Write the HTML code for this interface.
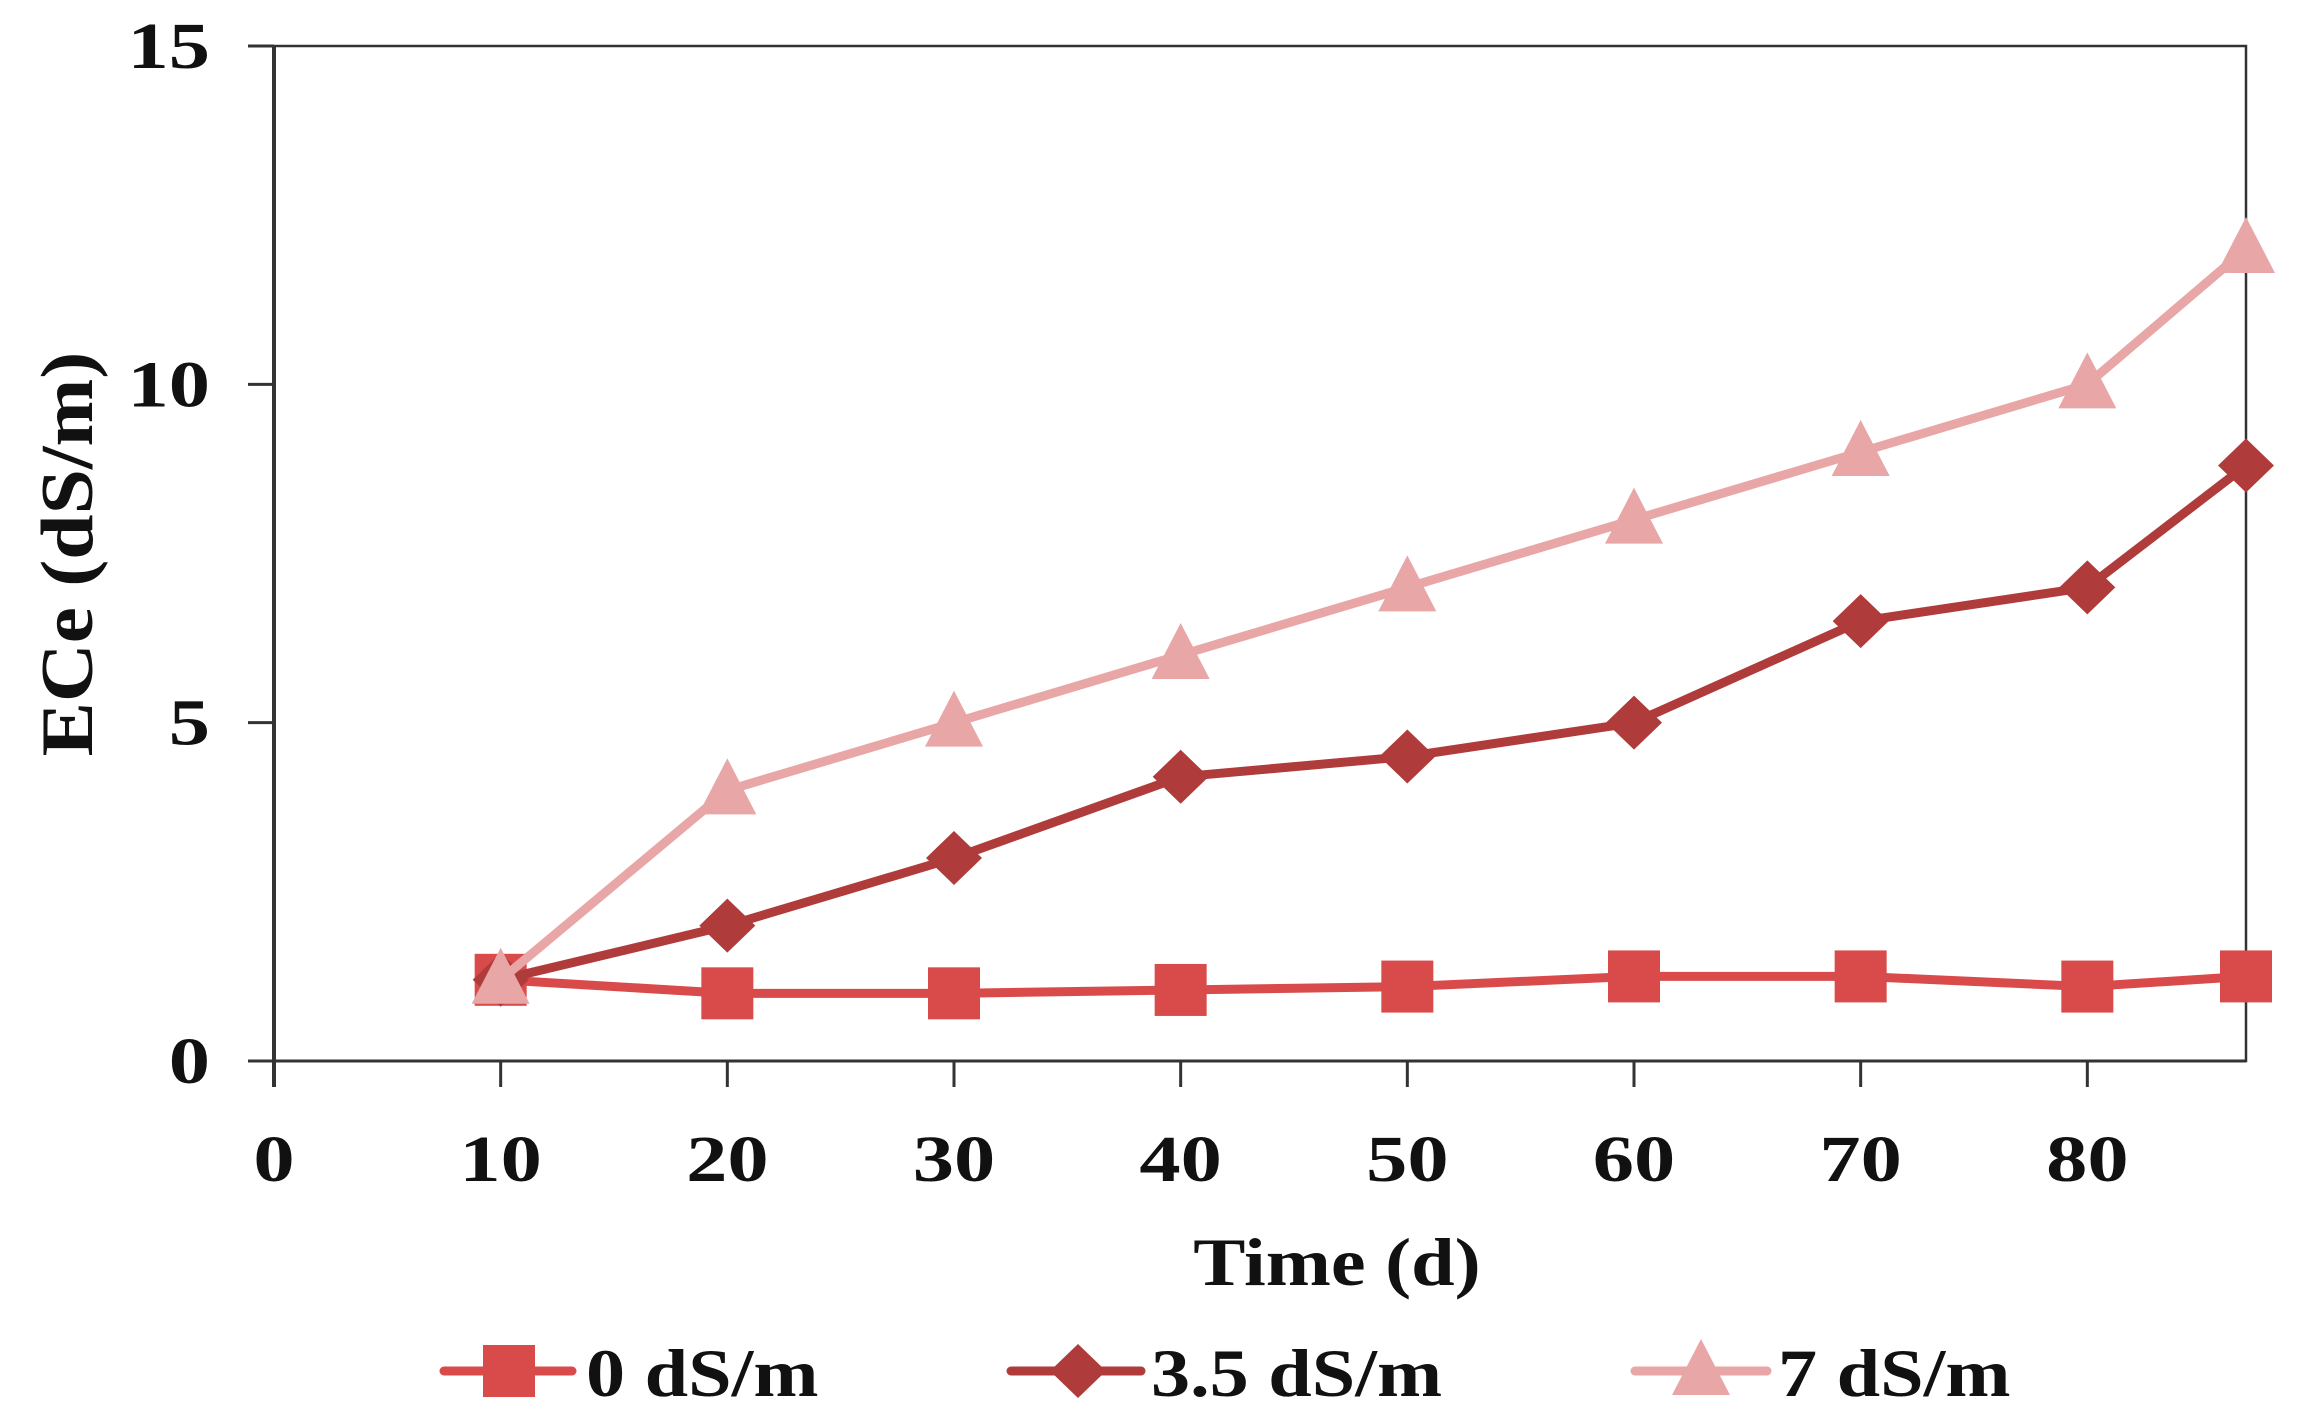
<!DOCTYPE html>
<html><head><meta charset="utf-8"><style>
html,body{margin:0;padding:0;background:#fff}
svg{display:block}
text{font-family:"Liberation Serif",serif;font-weight:bold;fill:#111}
</style></head><body>
<svg id="chart" width="2299" height="1419" viewBox="0 0 2299 1419" xmlns="http://www.w3.org/2000/svg">
<g id="axes"></g><g id="series"></g><g id="legend"></g>
</svg>
<script>
const xValues = [10,20,30,40,50,60,70,80,87];
const series0 = [1.2,1.0,1.0,1.05,1.1,1.25,1.25,1.1,1.25];
const series35 = [1.2,2,3,4.2,4.5,5,6.5,7,8.8];
const series7 = [1.2,4,5,6,7,8,9,10,12];
const xTicks = [0,10,20,30,40,50,60,70,80];
const yTicks = [0,5,10,15];
const seriesNames = ["0 dS/m","3.5 dS/m","7 dS/m"];

const L=274,R=2246,T=46,B=1061,XMAX=87,YMAX=15;
const sx=v=>L+(v/XMAX)*(R-L);
const sy=v=>B-(v/YMAX)*(B-T);
const NS="http://www.w3.org/2000/svg";
function mk(tag,attrs,parent){const e=document.createElementNS(NS,tag);for(const k in attrs)e.setAttribute(k,attrs[k]);parent.appendChild(e);return e;}
function stretch(t,f){const w=t.getComputedTextLength();t.setAttribute('textLength',w*f);t.setAttribute('lengthAdjust','spacingAndGlyphs');}
const axes=document.getElementById('axes'),ser=document.getElementById('series'),leg=document.getElementById('legend');

let frame=mk('rect',{x:L,y:T,width:R-L,height:B-T,fill:'none',stroke:'#333','stroke-width':2.5},axes);


let ya=mk('line',{x1:L,y1:T,x2:L,y2:B+26,stroke:'#333','stroke-width':4},axes);


let xa=mk('line',{x1:L-26,y1:B,x2:R,y2:B,stroke:'#333','stroke-width':3},axes);



yTicks.forEach(v=>{
  const t=mk('line',{x1:L-26,y1:sy(v),x2:L,y2:sy(v),stroke:'#333','stroke-width':3},axes);
  
  
  const tx=mk('text',{x:210,y:sy(v)+22,'text-anchor':'end','font-size':66},axes);
  tx.textContent=v;
  
  
  stretch(tx,1.25);
});
xTicks.forEach(v=>{
  const t=mk('line',{x1:sx(v),y1:B,x2:sx(v),y2:B+26,stroke:'#333','stroke-width':3},axes);
  
  
  const tx=mk('text',{x:sx(v),y:1181,'text-anchor':'middle','font-size':66},axes);
  tx.textContent=v;
  
  
  stretch(tx,1.25);
});
let xt=mk('text',{x:1337,y:1285,'text-anchor':'middle','font-size':68},axes);
xt.textContent='Time (d)';


stretch(xt,1.15);
let yt=mk('text',{x:0,y:0,'text-anchor':'middle','font-size':74,transform:'translate(92,554) rotate(-90)'},axes);
yt.textContent='ECe (dS/m)';


stretch(yt,1.1);

function marker(type,cx,cy,color,parent){
  let e;
  if(type==='square') e=mk('rect',{x:cx-26,y:cy-26,width:52,height:52,fill:color},parent);
  else if(type==='diamond') e=mk('polygon',{points:`${cx},${cy-27} ${cx+28},${cy} ${cx},${cy+27} ${cx-28},${cy}`,fill:color},parent);
  else e=mk('polygon',{points:`${cx},${cy-32} ${cx+29},${cy+24} ${cx-29},${cy+24}`,fill:color},parent);
  return e;
}
const defs=[
 {vals:series0,color:'#d94b4b',m:'square',name:'series-0-ds-m'},
 {vals:series35,color:'#b03b3b',m:'diamond',name:'series-3-5-ds-m'},
 {vals:series7,color:'#e8a6a6',m:'triangle',name:'series-7-ds-m'}
];
defs.forEach(d=>{
  const g=mk('g',{},ser);
  
  
  const pl=mk('polyline',{points:d.vals.map((v,i)=>sx(xValues[i])+','+sy(v)).join(' '),fill:'none',stroke:d.color,'stroke-width':9,'stroke-linejoin':'round'},g);
  
  
  d.vals.forEach((v,i)=>{
    const m=marker(d.m,sx(xValues[i]),sy(v),d.color,g);
    
    
  });
});
const legX=[[444,572,509,586],[1011,1141,1078,1151],[1635,1767,1701,1778]];
defs.forEach((d,i)=>{
  const g=mk('g',{},leg);
  
  
  const [a,b,c,tx]=legX[i];
  mk('line',{x1:a,y1:1371,x2:b,y2:1371,stroke:d.color,'stroke-width':9,'stroke-linecap':'round'},g);
  marker(d.m,c,1371,d.color,g);
  const t=mk('text',{x:tx,y:1396,'font-size':68},g);
  t.textContent=seriesNames[i];
  stretch(t,1.15);
});
</script>
</body></html>
